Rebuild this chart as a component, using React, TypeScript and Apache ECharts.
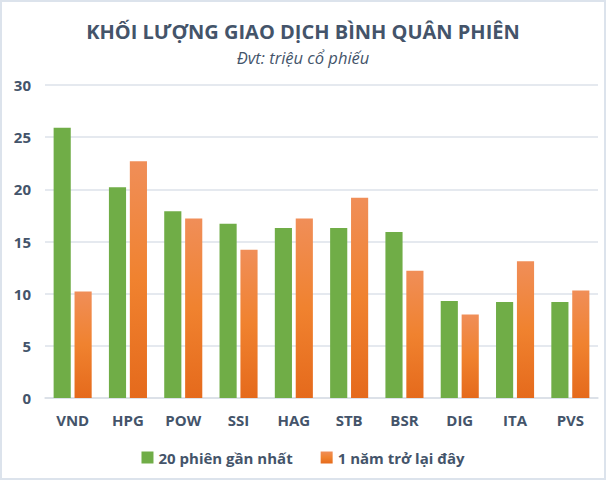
import React, { useEffect, useRef } from "react";
import * as echarts from "echarts";

const categories = ["VND", "HPG", "POW", "SSI", "HAG", "STB", "BSR", "DIG", "ITA", "PVS"];
const recent20 = [25.9, 20.2, 17.9, 16.7, 16.3, 16.3, 15.9, 9.3, 9.2, 9.2];
const oneYear = [10.2, 22.7, 17.2, 14.2, 17.2, 19.2, 12.2, 8.0, 13.1, 10.3];
const seriesNames = ["20 phiên gần nhất", "1 năm trở lại đây"];
const titleText = "KHỐI LƯỢNG GIAO DỊCH BÌNH QUÂN PHIÊN";
const subtitleText = "Đvt: triệu cổ phiếu";

export default function App() {
  const ref = useRef<HTMLDivElement>(null);
  useEffect(() => {
    document.body.style.margin = "0";
    const chart = echarts.init(ref.current!, null, { renderer: "svg" });
    const font = "'Open Sans', sans-serif";
    const textColor = "#44546A";
    chart.setOption({
      animation: false,
      backgroundColor: "#fff",
      title: {
        text: titleText,
        subtext: subtitleText,
        left: "center",
        top: 14,
        itemGap: 8,
        textStyle: { fontFamily: font, fontWeight: "bold", fontSize: 20, color: textColor },
        subtextStyle: { fontFamily: font, fontStyle: "italic", fontSize: 16.5, color: textColor },
      },
      legend: {
        bottom: 8,
        left: "center",
        itemWidth: 12,
        itemHeight: 12,
        itemGap: 28,
        icon: "rect",
        textStyle: { fontFamily: font, fontWeight: "bold", fontSize: 15, color: textColor },
        data: seriesNames,
      },
      grid: { left: 43, right: 6, top: 83, bottom: 80, containLabel: false },
      xAxis: {
        type: "category",
        data: categories,
        axisLine: { lineStyle: { color: "#D9DEE6", width: 1.5 } },
        axisTick: { show: false },
        axisLabel: { fontFamily: font, fontWeight: "bold", fontSize: 15, color: textColor, margin: 14 },
      },
      yAxis: {
        type: "value",
        min: 0,
        max: 30,
        interval: 5,
        axisLine: { show: false },
        axisTick: { show: false },
        splitLine: { lineStyle: { color: "#DDE2EA", width: 1.5 } },
        axisLabel: { fontFamily: font, fontWeight: "bold", fontSize: 15, color: textColor, margin: 14 },
      },
      series: [
        {
          name: seriesNames[0],
          type: "bar",
          data: recent20,
          barWidth: "31%",
          barGap: "22%",
          itemStyle: { color: "#70AD47" },
        },
        {
          name: seriesNames[1],
          type: "bar",
          data: oneYear,
          barWidth: "31%",
          itemStyle: {
            color: new echarts.graphic.LinearGradient(0, 0, 0, 1, [
              { offset: 0, color: "#F08E58" },
              { offset: 0.5, color: "#F0822F" },
              { offset: 1, color: "#E56A1C" },
            ]),
          },
        },
      ],
    });
    return () => chart.dispose();
  }, []);
  return (
    <div
      ref={ref}
      style={{ width: 606, height: 480, boxSizing: "border-box", border: "2px solid #DCE3EC" }}
    />
  );
}
